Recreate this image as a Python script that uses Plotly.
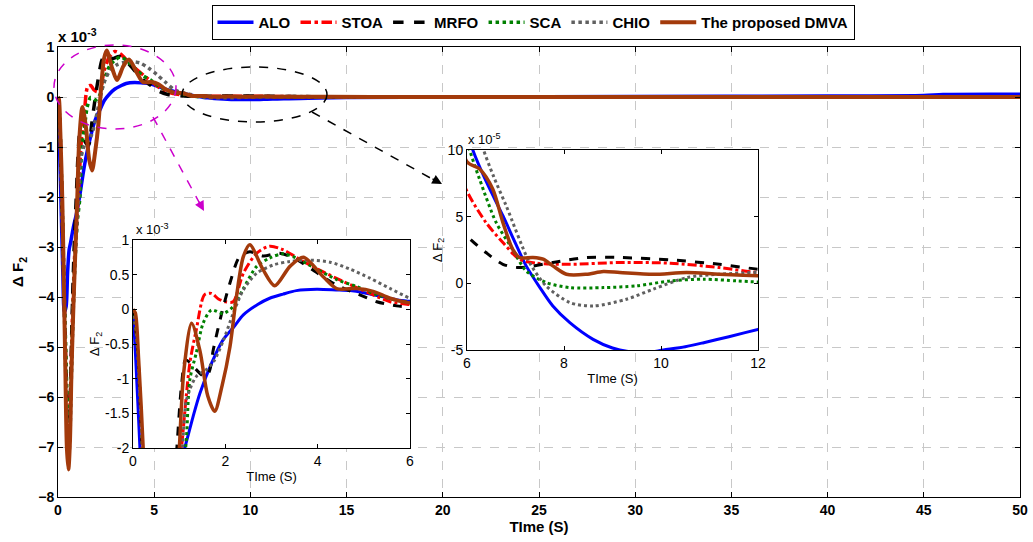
import plotly.graph_objects as go

# ---------------- data ----------------
# segment A: 0..6 s, values in units of 1e-3
# segment B: 6..12 s, values in units of 1e-5
# tail: >12 s, values in units of 1e-5
names = ["ALO", "STOA", "MRFO", "SCA", "CHIO", "The proposed DMVA"]

alo_ta = [0, 0.05, 0.15, 0.25, 0.33, 0.42, 0.5, 0.58, 0.66, 0.8, 0.95, 1.12, 1.3, 1.45, 1.7, 1.95, 2.2, 2.39, 2.7, 2.96, 3.25, 3.54, 3.98, 4.4, 4.7, 5.0, 5.42, 5.7]
alo_va = [0, -0.6, -2.0, -3.5, -4.3, -4.2, -3.5, -3.05, -2.9, -2.6, -2.35, -2.0, -1.55, -1.21, -0.78, -0.44, -0.24, -0.08, 0.07, 0.16, 0.22, 0.27, 0.29, 0.28, 0.27, 0.24, 0.18, 0.14]
alo_tb = [6.0, 6.12, 6.4, 6.74, 7.0, 7.22, 7.5, 7.77, 8.12, 8.6, 9.0, 9.4, 9.7, 10.05, 10.5, 10.88, 11.4, 12]
alo_vb = [11.5, 10, 7.6, 5.07, 3.0, 1.31, -0.3, -1.7, -2.95, -4.2, -4.85, -5.15, -5.2, -5.0, -4.75, -4.45, -4.0, -3.45]
alo_tt = [13, 15, 20, 30, 40, 45, 46, 50]
alo_vt = [-2.5, -1.0, 0.0, 1.0, 2.0, 3.0, 5.0, 5.5]

stoa_ta = [0, 0.08, 0.2, 0.3, 0.4, 0.48, 0.55, 0.62, 0.72, 0.85, 0.95, 1.05, 1.23, 1.37, 1.55, 1.7, 1.85, 2.0, 2.17, 2.39, 2.68, 2.96, 3.25, 3.69, 4.12, 4.56, 5.13, 5.57]
stoa_va = [0, -0.4, -2.0, -3.6, -5.2, -6.3, -6.8, -6.3, -4.8, -3.3, -2.6, -2.0, -0.78, -0.30, 0.21, 0.23, 0.15, 0.11, 0.11, 0.52, 0.81, 0.91, 0.86, 0.69, 0.54, 0.40, 0.23, 0.11]
stoa_tb = [6.0, 6.39, 6.74, 7.08, 7.43, 8.12, 9.15, 10.19, 11.2, 12]
stoa_vb = [6.9, 4.57, 3.06, 1.81, 1.51, 1.43, 1.56, 1.51, 1.18, 0.81]
stoa_tt = [14, 18, 25, 50]
stoa_vt = [0.4, 0.1, 0.0, 0.0]

mrfo_ta = [0, 0.08, 0.2, 0.3, 0.4, 0.48, 0.55, 0.62, 0.72, 0.85, 0.95, 1.05, 1.14, 1.25, 1.37, 1.55, 1.65, 1.74, 1.92, 2.10, 2.31, 2.53, 2.82, 3.18, 3.54, 3.98, 4.41, 4.84, 5.28, 5.71]
mrfo_va = [0, -0.4, -2.0, -3.7, -5.4, -6.6, -7.0, -6.4, -4.6, -2.9, -2.0, -1.1, -0.73, -0.78, -0.87, -0.97, -0.9, -0.58, -0.06, 0.38, 0.76, 0.83, 0.77, 0.81, 0.72, 0.53, 0.35, 0.23, 0.11, 0.05]
mrfo_tb = [6.0, 6.39, 6.74, 7.08, 7.77, 8.46, 9.15, 10.19, 11.2, 12]
mrfo_vb = [3.56, 2.31, 1.43, 1.18, 1.56, 1.94, 1.94, 1.76, 1.43, 1.06]
mrfo_tt = [14, 18, 25, 50]
mrfo_vt = [0.5, 0.15, 0.0, 0.0]

sca_ta = [0, 0.08, 0.2, 0.3, 0.4, 0.48, 0.56, 0.64, 0.74, 0.88, 1.0, 1.14, 1.23, 1.37, 1.52, 1.70, 1.95, 2.17, 2.39, 2.68, 2.96, 3.25, 3.54, 3.98, 4.41, 4.84, 5.28, 5.71]
sca_va = [0, -0.4, -1.9, -3.5, -5.0, -6.1, -6.6, -6.2, -4.8, -3.3, -2.5, -2.0, -1.02, -0.63, -0.2, -0.01, -0.06, 0.04, 0.30, 0.62, 0.74, 0.80, 0.74, 0.58, 0.43, 0.33, 0.21, 0.13]
sca_tb = [6.0, 6.26, 6.6, 6.94, 7.22, 7.63, 8.12, 8.81, 9.5, 10.19, 10.88, 11.57, 12]
sca_vb = [10.5, 7.8, 4.57, 2.56, 0.93, 0.06, -0.32, -0.32, -0.19, 0.18, 0.31, 0.18, 0.1]
sca_tt = [14, 20, 50]
sca_vt = [0.05, 0.0, 0.0]

chio_ta = [0, 0.08, 0.2, 0.3, 0.4, 0.48, 0.55, 0.62, 0.72, 0.85, 0.96, 1.07, 1.16, 1.37, 1.59, 1.75, 1.95, 2.17, 2.39, 2.68, 3.04, 3.4, 3.83, 4.27, 4.70, 5.13, 5.57]
chio_va = [0, -0.4, -2.0, -3.7, -5.5, -6.8, -7.3, -6.8, -5.2, -3.6, -2.7, -2.0, -1.3, -0.97, -0.87, -0.75, -0.46, -0.06, 0.28, 0.52, 0.64, 0.69, 0.71, 0.68, 0.58, 0.45, 0.30]
chio_tb = [6.0, 6.3, 6.55, 6.81, 7.29, 7.63, 8.12, 8.6, 9.29, 9.84, 10.53, 11.2, 12]
chio_vb = [16, 10.5, 8.0, 5.8, 1.56, -0.19, -1.44, -1.7, -1.19, -0.44, 0.43, 0.68, 0.81]
chio_tt = [13, 15, 20, 50]
chio_vt = [0.7, 0.3, 0.0, 0.0]

dmva_ta = [0, 0.05, 0.12, 0.22, 0.3, 0.38, 0.46, 0.54, 0.62, 0.7, 0.8, 0.9, 1.0, 1.1, 1.27, 1.45, 1.62, 1.77, 1.93, 2.1, 2.24, 2.39, 2.53, 2.82, 3.07, 3.4, 3.69, 4.12, 4.41, 4.84, 5.2, 5.57]
dmva_va = [0, -0.05, -0.7, -2.0, -3.6, -5.4, -7.0, -7.45, -6.9, -5.5, -4.2, -3.1, -2.05, -0.9, -0.2, -0.6, -1.25, -1.47, -1.1, -0.54, 0.18, 0.76, 0.93, 0.57, 0.34, 0.62, 0.75, 0.47, 0.30, 0.30, 0.26, 0.16]
dmva_tb = [6.0, 6.26, 6.53, 6.74, 6.94, 7.08, 7.36, 7.57, 7.77, 8.05, 8.46, 8.81, 9.15, 9.84, 10.53, 11.2, 12]
dmva_vb = [9.12, 8.57, 7.07, 4.57, 2.56, 1.94, 1.94, 1.81, 1.31, 0.68, 0.68, 0.88, 0.81, 0.68, 0.81, 0.68, 0.56]
dmva_tt = [14, 18, 25, 50]
dmva_vt = [0.3, 0.1, 0.0, 0.0]

main_xticks = [0, 5, 10, 15, 20, 25, 30, 35, 40, 45, 50]
main_yticks = [-8, -7, -6, -5, -4, -3, -2, -1, 0, 1]
in1_xticks = [0, 2, 4, 6]
in1_yticks = [-2, -1.5, -1, -0.5, 0, 0.5, 1]
in1_yticktext = ["-2", "-1.5", "-1", "-0.5", "0", "0.5", "1"]
in2_xticks = [6, 8, 10, 12]
in2_yticks = [-5, 0, 5, 10]
in2_yticktext = ["-5", "0", "5", "10"]

series = [
    (alo_ta, alo_va, alo_tb, alo_vb, alo_tt, alo_vt),
    (stoa_ta, stoa_va, stoa_tb, stoa_vb, stoa_tt, stoa_vt),
    (mrfo_ta, mrfo_va, mrfo_tb, mrfo_vb, mrfo_tt, mrfo_vt),
    (sca_ta, sca_va, sca_tb, sca_vb, sca_tt, sca_vt),
    (chio_ta, chio_va, chio_tb, chio_vb, chio_tt, chio_vt),
    (dmva_ta, dmva_va, dmva_tb, dmva_vb, dmva_tt, dmva_vt),
]

colors = ["#0000FF", "#FF0000", "#000000", "#008000", "#606060", "#A33A0B"]
dashes = ["solid", "dashdot", "dash", "dot", "dot", "solid"]
widths = [3.5, 3.5, 3.5, 3.5, 3.5, 4]

# ---------------- figure ----------------
W, H = 1033, 542
def px(x):
    return x / W
def py(y):
    return 1 - y / H

fig = go.Figure()
for i, (ta, va, tb, vb, tt, vt) in enumerate(series):
    t = ta + tb + tt
    phys = [v * 1e-3 for v in va] + [v * 1e-5 for v in vb] + [v * 1e-5 for v in vt]
    y_m3 = [p / 1e-3 for p in phys]
    y_m5 = [p / 1e-5 for p in phys]
    line = dict(color=colors[i], dash=dashes[i], width=widths[i], shape="spline", smoothing=0.8)
    fig.add_trace(go.Scatter(x=t, y=y_m3, mode="lines", name=names[i], line=line,
                             xaxis="x", yaxis="y"))
    line2 = dict(line, width=widths[i] - 0.5)
    fig.add_trace(go.Scatter(x=t, y=y_m3, mode="lines", name=names[i], line=line2,
                             xaxis="x2", yaxis="y2", showlegend=False))
    fig.add_trace(go.Scatter(x=t, y=y_m5, mode="lines", name=names[i], line=line2,
                             xaxis="x3", yaxis="y3", showlegend=False))

FONT = "Liberation Sans, Arial, sans-serif"
bold14 = dict(family=FONT, size=14, color="black", weight="bold")
bold15 = dict(family=FONT, size=15, color="black", weight="bold")
reg13 = dict(family=FONT, size=13, color="black")
reg14 = dict(family=FONT, size=14, color="black")

main_ax = dict(showline=True, linecolor="black", linewidth=1, mirror="ticks", ticks="inside",
               ticklen=5, tickcolor="black", showgrid=True, gridcolor="#c8c8c8", griddash="dash",
               zeroline=False, tickfont=bold14, automargin=False)
inset_ax = dict(showline=True, linecolor="black", linewidth=1, mirror="ticks", ticks="inside",
                ticklen=4, tickcolor="black", showgrid=False, zeroline=False, tickfont=reg14,
                automargin=False)

fig.update_layout(
    width=W, height=H,
    margin=dict(l=0, r=0, t=0, b=0, pad=0, autoexpand=False),
    paper_bgcolor="white", plot_bgcolor="white",
    xaxis=dict(main_ax, domain=[px(58), px(1020)], range=[0, 50], tickvals=main_xticks,
               title=dict(text="TIme (S)", font=bold15, standoff=4), anchor="y"),
    yaxis=dict(main_ax, domain=[1 - 497 / H, 1 - 47 / H], range=[-8, 1], tickvals=main_yticks,
               title=dict(text="Δ F<sub>2</sub>", font=bold15, standoff=10), anchor="x"),
    xaxis2=dict(inset_ax, domain=[px(133), px(410)], range=[0, 6], tickvals=in1_xticks,
                title=dict(text="TIme (S)", font=reg13, standoff=4), anchor="y2"),
    yaxis2=dict(inset_ax, domain=[1 - 448 / H, 1 - 240 / H], range=[-2, 1], tickvals=in1_yticks,
                ticktext=in1_yticktext,
                title=dict(text="Δ F<sub>2</sub>", font=reg13, standoff=2), anchor="x2"),
    xaxis3=dict(inset_ax, domain=[px(467), px(758)], range=[6, 12], tickvals=in2_xticks,
                title=dict(text="TIme (S)", font=reg13, standoff=4), anchor="y3"),
    yaxis3=dict(inset_ax, domain=[1 - 350 / H, 1 - 150 / H], range=[-5, 10], tickvals=in2_yticks,
                ticktext=in2_yticktext,
                title=dict(text="Δ F<sub>2</sub>", font=reg13, standoff=2), anchor="x3"),
    legend=dict(orientation="h", x=px(533), xanchor="center", y=py(5), yanchor="top",
                bordercolor="black", borderwidth=1, bgcolor="white", font=bold15,
                itemwidth=36, tracegroupgap=0),
    showlegend=True,
)

shapes = [
    # white backgrounds for the insets (drawn in the inset subplots, above the main grid)
    dict(type="rect", xref="x2", yref="y2", x0=0, x1=6, y0=-2, y1=1,
         fillcolor="white", line=dict(width=0), layer="below"),
    dict(type="rect", xref="x3", yref="y3", x0=6, x1=12, y0=-5, y1=10,
         fillcolor="white", line=dict(width=0), layer="below"),
    # highlight ellipses
    dict(type="circle", xref="paper", yref="paper", x0=px(54), x1=px(176), y0=py(129), y1=py(45),
         line=dict(color="#CC00CC", width=1.5, dash="dash")),
    dict(type="circle", xref="paper", yref="paper", x0=px(182), x1=px(327), y0=py(122), y1=py(67),
         line=dict(color="black", width=1.5, dash="dash")),
    # arrow shafts
    dict(type="line", xref="paper", yref="paper", x0=px(153), y0=py(117), x1=px(200), y1=py(204),
         line=dict(color="#CC00CC", width=1.5, dash="dash")),
    dict(type="line", xref="paper", yref="paper", x0=px(312), y0=py(112), x1=px(434), y1=py(180),
         line=dict(color="black", width=1.5, dash="dash")),
]
fig.update_layout(shapes=shapes)

annotations = [
    dict(xref="paper", yref="paper", x=px(56), y=py(36), xanchor="left", yanchor="middle",
         text="x 10<sup>-3</sup>", showarrow=False, font=bold15),
    dict(xref="paper", yref="paper", x=px(134), y=py(229), xanchor="left", yanchor="middle",
         text="x 10<sup>-3</sup>", showarrow=False, font=reg13),
    dict(xref="paper", yref="paper", x=px(466), y=py(139), xanchor="left", yanchor="middle",
         text="x 10<sup>-5</sup>", showarrow=False, font=reg13),
    # arrow heads
    dict(xref="paper", yref="paper", x=px(204), y=py(211), ax=-6, ay=-11, text="",
         showarrow=True, arrowhead=2, arrowsize=1.3, arrowwidth=1.5, arrowcolor="#CC00CC", standoff=0),
    dict(xref="paper", yref="paper", x=px(442), y=py(184), ax=-11, ay=-6, text="",
         showarrow=True, arrowhead=2, arrowsize=1.3, arrowwidth=1.5, arrowcolor="black", standoff=0),
]
fig.update_layout(annotations=annotations)

fig.write_html("out.html")
